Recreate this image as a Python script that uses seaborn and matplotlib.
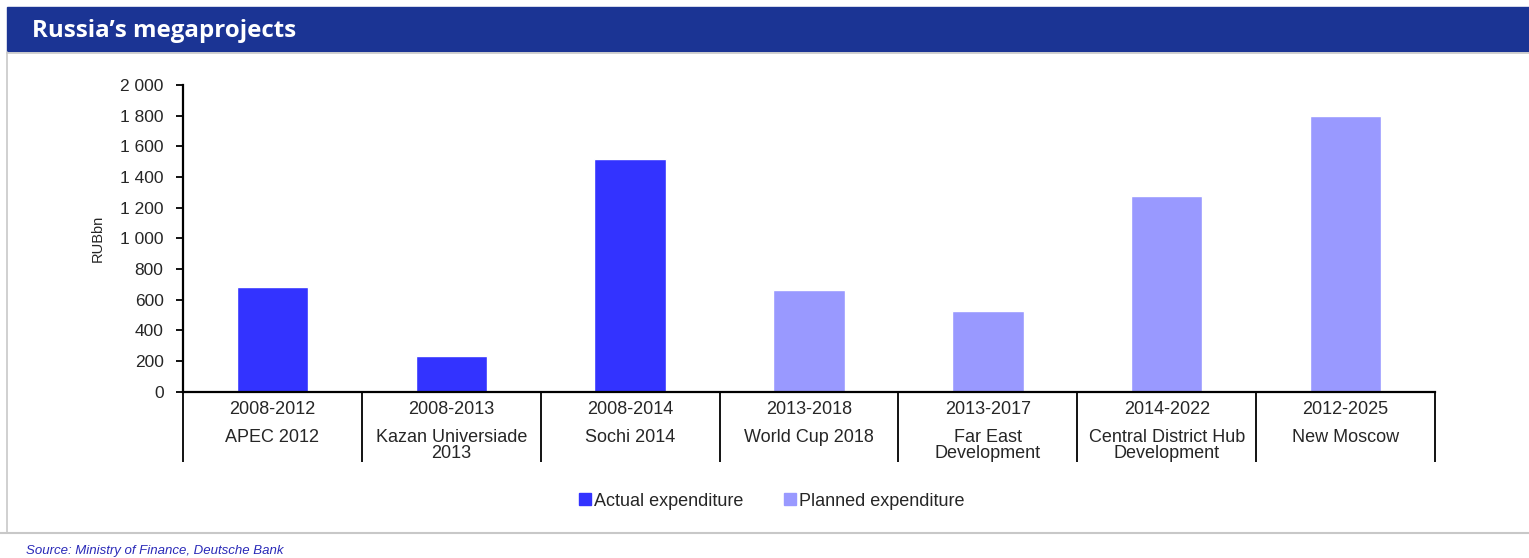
import matplotlib
matplotlib.use("Agg")
import matplotlib.pyplot as plt
import matplotlib.patches as mpatches
import matplotlib.lines as mlines
import matplotlib.transforms as mtrans
import seaborn as sns
import pandas as pd

projects = ["APEC 2012", "Kazan Universiade\n2013", "Sochi 2014", "World Cup 2018",
            "Far East\nDevelopment", "Central District Hub\nDevelopment", "New Moscow"]
periods = ["2008-2012", "2008-2013", "2008-2014", "2013-2018", "2013-2017", "2014-2022", "2012-2025"]
values = [680, 230, 1520, 660, 525, 1275, 1800]
kinds = ["Actual expenditure", "Actual expenditure", "Actual expenditure",
         "Planned expenditure", "Planned expenditure", "Planned expenditure", "Planned expenditure"]
y_ticks = [0, 200, 400, 600, 800, 1000, 1200, 1400, 1600, 1800, 2000]

df = pd.DataFrame({"project": projects, "period": periods, "value": values, "kind": kinds})

sns.set_theme(style="white")
plt.rcParams["font.family"] = ["Liberation Sans", "DejaVu Sans"]

W, H = 1529, 558
fig = plt.figure(figsize=(W / 100, H / 100), dpi=100)

def fx(px):
    return px / W

def fy(py):
    return 1 - py / H

# header band
fig.patches.append(mpatches.Rectangle((fx(7), fy(50.7)), fx(1529) - fx(7), fy(7.3) - fy(50.7),
                                      transform=fig.transFigure, color="#1b3494", zorder=0))
fig.text(fx(32), fy(31), "Russia\u2019s megaprojects", color="white", fontsize=17.4,
         fontweight="bold", family=["Open Sans", "DejaVu Sans"], va="center", ha="left")
# frame lines
grey = "#c8c8c8"
fig.add_artist(mlines.Line2D([fx(7), fx(1529)], [fy(52.5), fy(52.5)], color=grey, lw=1.2, transform=fig.transFigure))
fig.add_artist(mlines.Line2D([fx(7.5), fx(7.5)], [fy(52), fy(532.5)], color=grey, lw=1.2, transform=fig.transFigure))
fig.add_artist(mlines.Line2D([fx(0), fx(1529)], [fy(532.5), fy(532.5)], color=grey, lw=1.5, transform=fig.transFigure))
fig.text(fx(26), fy(551), "Source: Ministry of Finance, Deutsche Bank", color="#2a2ab8", fontsize=9.5,
         style="italic", va="center", ha="left")

ax = fig.add_axes([fx(183), fy(391.7), fx(1435) - fx(183), fy(85) - fy(391.7)])
palette = {"Actual expenditure": "#3333ff", "Planned expenditure": "#9999ff"}
sns.barplot(data=df, x="project", y="value", hue="kind", palette=palette, dodge=False,
            width=0.4, ax=ax, legend=False, saturation=1)

ax.set_ylim(0, 2000)
ax.set_xlim(-0.5, len(projects) - 0.5)
ax.set_yticks(y_ticks)
ax.set_yticklabels([f"{v:,}".replace(",", " ") for v in y_ticks], fontsize=12.5)
ax.set_ylabel("RUBbn", fontsize=10.5)
ax.set_xlabel("")
ax.set_xticks(range(len(projects)))
ax.set_xticklabels([""] * len(projects))
ax.set_xticks([i - 0.5 for i in range(len(projects) + 1)], minor=True)
ax.tick_params(axis="x", which="major", length=0, bottom=False)
ax.tick_params(axis="x", which="minor", length=50.5, width=1.3, color="black", direction="out", bottom=True)
ax.tick_params(axis="y", which="major", length=5, width=1.3, color="black", direction="out", left=True, pad=9)
for s in ["top", "right"]:
    ax.spines[s].set_visible(False)
for s in ["left", "bottom"]:
    ax.spines[s].set_color("black")
    ax.spines[s].set_linewidth(1.6)

ax.yaxis.set_label_coords((105 - 183) / (1435 - 183), 0.5)

trans = mtrans.blended_transform_factory(ax.transData, fig.transFigure)
for i, (per, name) in enumerate(zip(periods, projects)):
    ax.text(i, fy(409.3), per, transform=trans, ha="center", va="center", fontsize=13)
    for k, line in enumerate(name.split("\n")):
        ax.text(i, fy(437.7 + 15.8 * k), line, transform=trans, ha="center", va="center", fontsize=13)

handles = [mlines.Line2D([], [], marker="s", color=c, linestyle="none", markersize=8.4)
           for c in palette.values()]
fig.legend(handles, list(palette.keys()), loc="center", bbox_to_anchor=(fx(771), fy(501)), ncol=2,
           frameon=False, handletextpad=0.1, columnspacing=2.2, handlelength=0.8,
           prop={"size": 13})

fig.savefig("out.png", dpi=100)
